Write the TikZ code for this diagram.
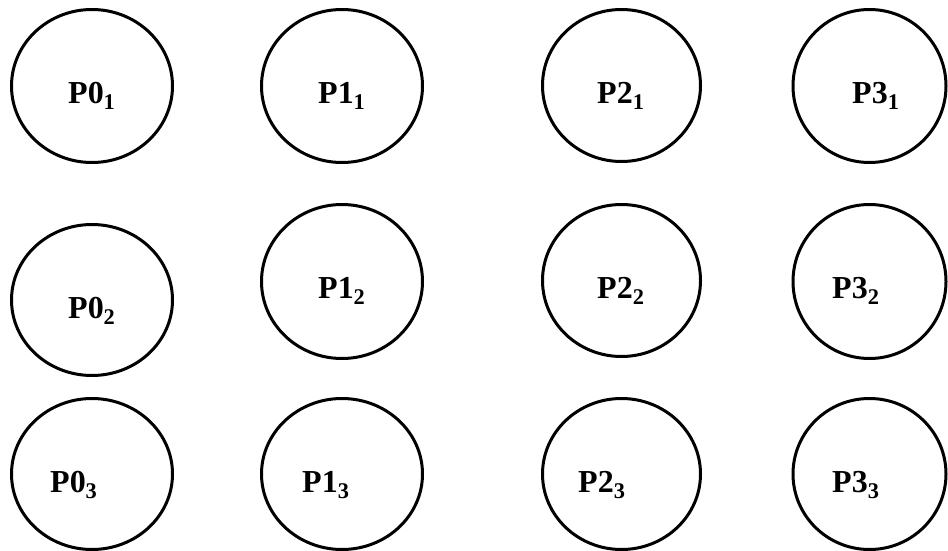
\documentclass[tikz,border=0pt]{standalone}
\usepackage{fontspec}
\setmainfont{Liberation Serif}
\usetikzlibrary{shapes.geometric}
\tikzset{
  proc/.style={draw=black, line width=3pt, ellipse, inner sep=0pt, fill=none},
  lab/.style={anchor=base west, inner sep=0pt, font=\fontsize{32}{38}\selectfont\bfseries}
}
\begin{document}
\begin{tikzpicture}[x=1pt,y=-1pt]
\useasboundingbox (0,0) rectangle (948,551);
% row 1
\node[proc, minimum width=161pt, minimum height=153pt] (c01) at (92,86) {};
\node[proc, minimum width=161pt, minimum height=153pt] (c11) at (342,86) {};
\node[proc, minimum width=158pt, minimum height=152pt] (c21) at (621.5,85.5) {};
\node[proc, minimum width=153pt, minimum height=153pt] (c31) at (869.5,86) {};
% row 2
\node[proc, minimum width=161pt, minimum height=151pt] (c02) at (92,300) {};
\node[proc, minimum width=161pt, minimum height=154pt] (c12) at (342,281.5) {};
\node[proc, minimum width=158pt, minimum height=152pt] (c22) at (621.5,280.5) {};
\node[proc, minimum width=153pt, minimum height=154pt] (c32) at (869.5,281.5) {};
% row 3
\node[proc, minimum width=161pt, minimum height=151pt] (c03) at (92,474) {};
\node[proc, minimum width=161pt, minimum height=151pt] (c13) at (342,474) {};
\node[proc, minimum width=158pt, minimum height=151pt] (c23) at (621.5,474) {};
\node[proc, minimum width=153pt, minimum height=151pt] (c33) at (869.5,474) {};
% labels
\node[lab] (l01) at (68,103) {P0\textsubscript{1}};
\node[lab] (l11) at (318,103) {P1\textsubscript{1}};
\node[lab] (l21) at (597,103) {P2\textsubscript{1}};
\node[lab] (l31) at (852,103) {P3\textsubscript{1}};
\node[lab] (l02) at (68,318) {P0\textsubscript{2}};
\node[lab] (l12) at (318,298) {P1\textsubscript{2}};
\node[lab] (l22) at (597,298) {P2\textsubscript{2}};
\node[lab] (l32) at (832,298) {P3\textsubscript{2}};
\node[lab] (l03) at (50,492) {P0\textsubscript{3}};
\node[lab] (l13) at (302,492) {P1\textsubscript{3}};
\node[lab] (l23) at (578,492) {P2\textsubscript{3}};
\node[lab] (l33) at (832,492) {P3\textsubscript{3}};
\end{tikzpicture}
\end{document}
